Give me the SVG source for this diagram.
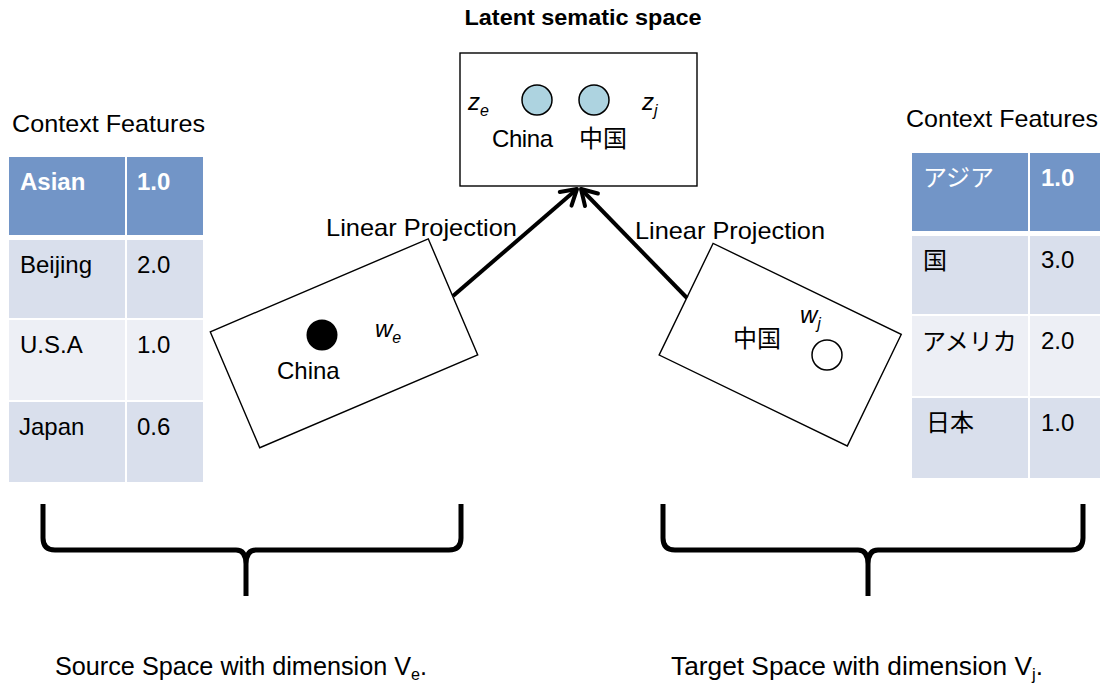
<svg xmlns="http://www.w3.org/2000/svg" width="1105" height="691" viewBox="0 0 1105 691">
  <style>
    text { font-family: "Liberation Sans", "Noto Sans CJK JP", sans-serif; fill: #000; }
    .lbl { font-size: 24px; }
    .cjk { font-family: "Noto Sans CJK JP", "Liberation Sans", sans-serif; font-size: 24px; }
    .hdr { fill: #7295c7; }
    .rowA { fill: #d9dfec; }
    .rowB { fill: #edeff5; }
    .hdrtxt { fill: #fff; font-weight: bold; }
    .box { fill: #fff; stroke: #000; stroke-width: 1.4; }
    .it { font-style: italic; }
    .conn { stroke: #000; stroke-width: 4; fill: none; marker-end: url(#vhead); }
    .brace { stroke: #000; stroke-width: 5; fill: none; stroke-linejoin: round; }
  </style>
  <defs>
    <marker id="vhead" viewBox="0 0 22 24" refX="18" refY="12" markerWidth="22" markerHeight="24" markerUnits="userSpaceOnUse" orient="auto">
      <path d="M3,3 L18,12 L3,21" fill="none" stroke="#000" stroke-width="4" stroke-linecap="round" stroke-linejoin="round"/>
    </marker>
  </defs>

  <rect width="1105" height="691" fill="#fff"/>

  <!-- Title of the shared space -->
  <text x="583" y="25" text-anchor="middle" font-weight="bold" font-size="22" textLength="237" lengthAdjust="spacingAndGlyphs">Latent sematic space</text>

  <!-- Latent semantic space box -->
  <g id="latent">
    <rect class="box" x="460" y="53" width="237" height="133"/>
    <circle cx="537" cy="100" r="15" fill="#add3e0" stroke="#000" stroke-width="1.5"/>
    <circle cx="594" cy="100" r="15" fill="#add3e0" stroke="#000" stroke-width="1.5"/>
    <text class="lbl it" x="468" y="110">z<tspan font-size="16" dy="6">e</tspan></text>
    <text class="lbl it" x="642" y="110">z<tspan font-size="16" dy="6">j</tspan></text>
    <text class="lbl" x="492" y="147" textLength="61">China</text>
    <text class="cjk" x="579" y="147">中国</text>
  </g>

  <!-- Source-side context feature table -->
  <g id="source-table">
    <text class="lbl" x="12" y="132" textLength="193" lengthAdjust="spacingAndGlyphs">Context Features</text>
    <rect class="hdr" x="9" y="157" width="116" height="78"/>
    <rect class="hdr" x="127" y="157" width="76" height="78"/>
    <rect class="rowA" x="9" y="240" width="116" height="78"/>
    <rect class="rowA" x="127" y="240" width="76" height="78"/>
    <rect class="rowB" x="9" y="320" width="116" height="80"/>
    <rect class="rowB" x="127" y="320" width="76" height="80"/>
    <rect class="rowA" x="9" y="402" width="116" height="80"/>
    <rect class="rowA" x="127" y="402" width="76" height="80"/>
    <text class="lbl hdrtxt" x="20" y="190">Asian</text>
    <text class="lbl hdrtxt" x="137" y="190">1.0</text>
    <text class="lbl" x="20" y="273">Beijing</text>
    <text class="lbl" x="137" y="273">2.0</text>
    <text class="lbl" x="20" y="353">U.S.A</text>
    <text class="lbl" x="137" y="353">1.0</text>
    <text class="lbl" x="19" y="435">Japan</text>
    <text class="lbl" x="137" y="435">0.6</text>
  </g>

  <!-- Target-side context feature table -->
  <g id="target-table">
    <text class="lbl" x="906" y="127" textLength="192" lengthAdjust="spacingAndGlyphs">Context Features</text>
    <rect class="hdr" x="912" y="153" width="116" height="78"/>
    <rect class="hdr" x="1030" y="153" width="70" height="78"/>
    <rect class="rowA" x="912" y="236" width="116" height="78"/>
    <rect class="rowA" x="1030" y="236" width="70" height="78"/>
    <rect class="rowB" x="912" y="316" width="116" height="80"/>
    <rect class="rowB" x="1030" y="316" width="70" height="80"/>
    <rect class="rowA" x="912" y="398" width="116" height="80"/>
    <rect class="rowA" x="1030" y="398" width="70" height="80"/>
    <text class="cjk" x="923" y="186" style="fill:#fff">アジア</text>
    <text class="lbl hdrtxt" x="1041" y="186">1.0</text>
    <text class="cjk" x="923" y="269">国</text>
    <text class="lbl" x="1041" y="268">3.0</text>
    <text class="cjk" x="922" y="350">アメリカ</text>
    <text class="lbl" x="1041" y="349">2.0</text>
    <text class="cjk" x="926" y="431">日本</text>
    <text class="lbl" x="1041" y="431">1.0</text>
  </g>

  <!-- Source space box (tilted) -->
  <g id="source-space">
    <rect class="box" x="-118.5" y="-63" width="237" height="126" transform="translate(344,343.3) rotate(-23.1)"/>
    <circle cx="322" cy="335" r="15.5" fill="#000"/>
    <text class="lbl" x="277" y="379">China</text>
    <text class="lbl it" x="375" y="337">w<tspan font-size="16" dy="6">e</tspan></text>
  </g>

  <!-- Target space box (tilted) -->
  <g id="target-space">
    <rect class="box" x="-104.5" y="-62" width="209" height="124" transform="translate(780.2,344.7) rotate(25.8)"/>
    <text class="cjk" x="733" y="347">中国</text>
    <circle cx="827" cy="355" r="15" fill="#fff" stroke="#000" stroke-width="1.5"/>
    <text class="lbl it" x="800" y="323">w<tspan font-size="16" dy="6">j</tspan></text>
  </g>

  <!-- Projection connectors -->
  <g id="connectors">
    <line class="conn" x1="453" y1="296" x2="577" y2="189"/>
    <line class="conn" x1="687" y1="298" x2="581" y2="189"/>
    <text class="lbl" x="326" y="236" textLength="191" lengthAdjust="spacingAndGlyphs">Linear Projection</text>
    <text class="lbl" x="635" y="239" textLength="190" lengthAdjust="spacingAndGlyphs">Linear Projection</text>
  </g>

  <!-- Braces grouping each side -->
  <g id="source-brace">
    <path class="brace" d="M43,504 L43,538 Q43,550 55,550 L236,550 Q246,550 246,564 L246,596 M246,564 Q246,550 256,550 L449,550 Q461,550 461,538 L461,504"/>
    <text x="55" y="675" font-size="25" textLength="372" lengthAdjust="spacingAndGlyphs">Source Space with dimension V<tspan font-size="16" dy="5">e</tspan><tspan dy="-5">.</tspan></text>
  </g>
  <g id="target-brace">
    <path class="brace" d="M663,504 L663,538 Q663,550 675,550 L858,550 Q868,550 868,564 L868,596 M868,564 Q868,550 878,550 L1071,550 Q1083,550 1083,538 L1083,504"/>
    <text x="671" y="675" font-size="25" textLength="372" lengthAdjust="spacingAndGlyphs">Target Space with dimension V<tspan font-size="16" dy="5">j</tspan><tspan dy="-5">.</tspan></text>
  </g>
</svg>
